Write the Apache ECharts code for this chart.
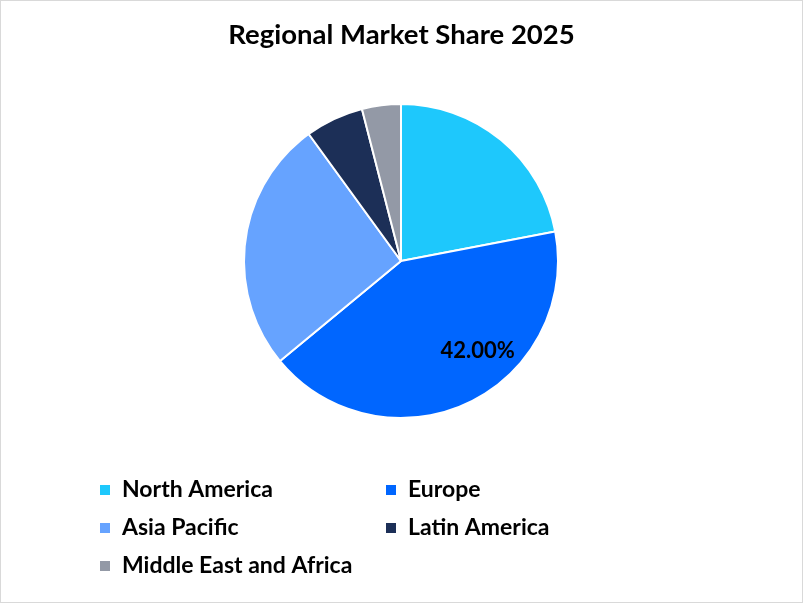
<!DOCTYPE html>
<html>
<head>
<meta charset="utf-8">
<script src="https://cdn.jsdelivr.net/npm/echarts@6/dist/echarts.min.js"></script>
<style>
  html, body { margin: 0; padding: 0; background: #fff; }
  #chart { width: 801px; height: 601px; border: 1px solid #d9d9d9; }
</style>
</head>
<body>
<div id="chart"></div>
<script>
var regions = ['North America', 'Europe', 'Asia Pacific', 'Latin America', 'Middle East and Africa'];
var shares = [22, 42, 26, 6, 4];
var colors = ['#1ec8fc', '#0066ff', '#66a3ff', '#1c2f57', '#9399a6'];
var labelled = ['Europe'];

var font = 'Lato, "Open Sans", sans-serif';

var pieData = regions.map(function (name, i) {
    var item = {name: name, value: shares[i]};
    if (labelled.indexOf(name) >= 0) {
        item.label = {
            show: true,
            position: 'inside',
            offset: [42, 16],
            formatter: function (p) { return p.percent.toFixed(2) + '%'; },
            color: '#000',
            fontSize: 22,
            fontWeight: 'bold',
            fontFamily: font
        };
    }
    return item;
});

function legendCol(names, left) {
    return {
        orient: 'vertical',
        left: left,
        top: 472,
        height: 125,
        itemWidth: 12,
        itemHeight: 12,
        itemGap: 14,
        icon: 'rect',
        data: names,
        textStyle: {
            fontSize: 23,
            fontWeight: 'bold',
            color: '#000',
            fontFamily: font,
            lineHeight: 24,
            padding: [0, 0, 0, 6]
        }
    };
}

var myChart = echarts.init(document.getElementById('chart'));
var option = {
    color: colors,
    animation: false,
    title: {
        text: 'Regional Market Share 2025',
        left: 'center',
        top: 15,
        textStyle: {
            fontSize: 27.5,
            fontWeight: 'bold',
            color: '#000',
            fontFamily: font
        }
    },
    legend: [
        legendCol(['North America', 'Asia Pacific', 'Middle East and Africa'], 92),
        legendCol(['Europe', 'Latin America'], 378)
    ],
    series: [
        {
            type: 'pie',
            center: [400, 260],
            radius: 157,
            startAngle: 90,
            clockwise: true,
            label: {show: false},
            labelLine: {show: false},
            itemStyle: {borderColor: '#fff', borderWidth: 2},
            emphasis: {disabled: true},
            data: pieData
        }
    ]
};
myChart.setOption(option);
</script>
</body>
</html>
